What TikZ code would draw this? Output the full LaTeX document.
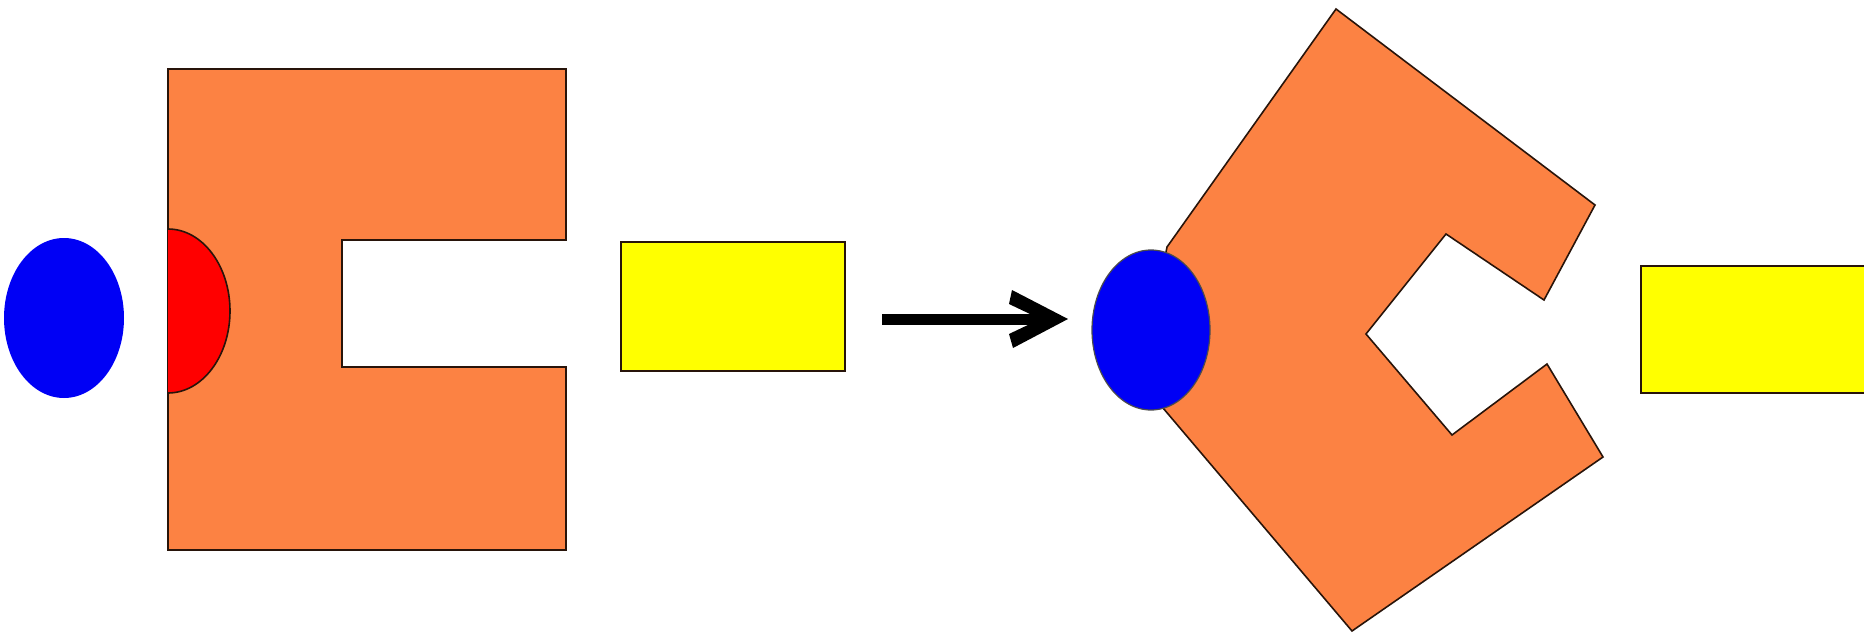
\documentclass[tikz,border=0pt]{standalone}
\definecolor{uorange}{RGB}{252,130,67}
\definecolor{ublue}{RGB}{0,0,245}
\definecolor{ured}{RGB}{255,0,0}
\definecolor{uyellow}{RGB}{255,255,0}
\definecolor{uline}{RGB}{40,20,10}
\begin{document}
\begin{tikzpicture}[x=1pt,y=-1pt,
  outl/.style={draw=uline, line width=2.6pt},
  thinoutl/.style={draw=uline, line width=1.6pt}]
\useasboundingbox (0,0) rectangle (1864,634);
% ---------- left scene ----------
\fill[ublue] (64,318) ellipse [x radius=60, y radius=80];
\filldraw[fill=uorange, outl] (168,69) -- (566,69) -- (566,240) -- (342,240) -- (342,367) -- (566,367) -- (566,550) -- (168,550) -- cycle;
\begin{scope}
  \clip (168,200) rectangle (260,420);
  \filldraw[fill=ured, draw=uline, line width=1.6pt] (168,311) ellipse [x radius=62, y radius=82];
\end{scope}
\filldraw[fill=uyellow, outl] (621,242) rectangle (845,371);
% ---------- arrow ----------
\coordinate (a1) at (882,319);
\coordinate (a2) at (1045,319);
\coordinate (tip) at (1068,319);
\draw[line width=11pt] (a1) -- (a2);
\fill (tip) -- (1012,290) -- (1009,304) -- (1030,314) -- (1030,324) -- (1009,334) -- (1013,348) -- cycle;
% ---------- right scene ----------
\filldraw[fill=uorange, thinoutl] (1336,9) -- (1595,205) -- (1544,300) -- (1446,234) -- (1366,334) -- (1452,435) -- (1547,364) -- (1603,457) -- (1352,631) -- (1163,408) -- (1151,330) -- (1167,247) -- cycle;
\filldraw[fill=ublue, draw=black!70, line width=1.2pt] (1151,330) ellipse [x radius=59, y radius=80];
\filldraw[fill=uyellow, outl] (1641,266) rectangle (1870,393);
\end{tikzpicture}
\end{document}
